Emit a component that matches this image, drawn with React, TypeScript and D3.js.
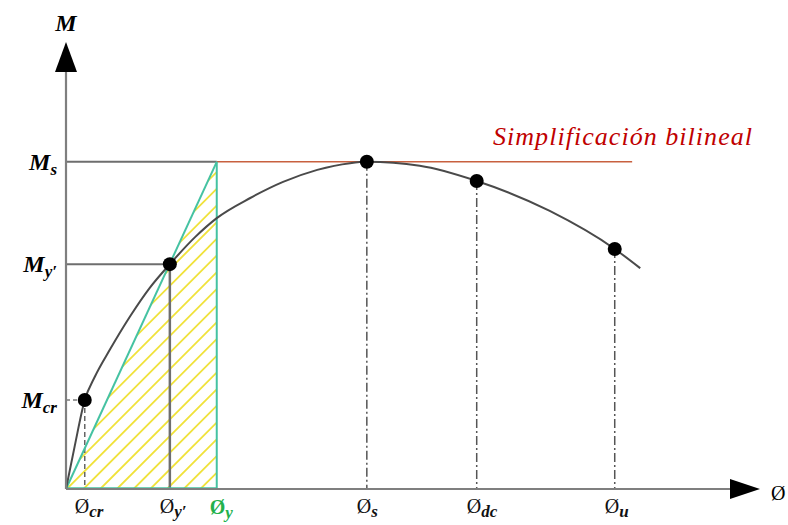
import React from "react";
import * as d3 from "d3";

// Moment–curvature curve (curvature φ, moment M), arbitrary units
const curvePhi = [0, 0.13, 0.28, 0.43, 0.66, 0.96, 1.25, 1.55, 1.93, 2.25, 2.75, 3.24, 3.75, 4.24, 4.49, 5.28, 6.13, 7.22, 8.19, 8.57];
const curveM = [0, 0.96, 1.99, 2.51, 3.13, 3.87, 4.5, 5.03, 5.64, 6.06, 6.51, 6.87, 7.14, 7.29, 7.32, 7.23, 6.89, 6.22, 5.37, 4.94];

// Marked states on the curve
const pointSubs = ["cr", "y\u2032", "s", "dc", "u"];
const pointPhi = [0.28, 1.55, 4.49, 6.13, 8.19];
const pointM = [1.99, 5.03, 7.32, 6.89, 5.37];

// Bilinear simplification
const phiYield = 2.25;
const momentMax = 7.32;
const bilinearEndPhi = 8.45;

// Moment labels on the vertical axis
const momentSubs = ["s", "y\u2032", "cr"];
const momentVals = [7.32, 5.03, 1.99];

const W = 788;
const H = 525;

const x = d3.scaleLinear().domain([0, 10]).range([66, 736]);
const y = d3.scaleLinear().domain([0, 10]).range([489, 42]);

const SERIF = "'Liberation Serif', 'DejaVu Serif', serif";

export default function App() {
  const curveData = curvePhi.map((p, i) => [p, curveM[i]] as [number, number]);
  const curvePath = d3
    .line<[number, number]>()
    .x((d) => x(d[0]))
    .y((d) => y(d[1]))
    .curve(d3.curveMonotoneX)(curveData) as string;

  const x0 = x(0);
  const y0 = y(0);
  const xY = x(phiYield);
  const yS = y(momentMax);

  const triangle = `M${x0},${y0}L${xY},${yS}L${xY},${y0}Z`;
  const hatchStarts = d3.range(x0 - 400, xY + 20, 16.7);

  return (
    <svg
      width={W}
      height={H}
      style={{ position: "absolute", left: 0, top: 0, background: "#fff" }}
    >
      <defs>
        <clipPath id="tri-clip">
          <path d={triangle} />
        </clipPath>
      </defs>

      {/* hatched area under the elastic branch */}
      <g clipPath="url(#tri-clip)">
        {hatchStarts.map((c, i) => (
          <line key={i} x1={c} y1={y0} x2={c + 400} y2={y0 - 400} stroke="#f0e23a" strokeWidth={1.8} />
        ))}
      </g>

      {/* horizontal reference lines */}
      <line x1={x0} x2={xY} y1={yS} y2={yS} stroke="#6e6e6e" strokeWidth={2} />
      <line x1={x0} x2={x(pointPhi[1])} y1={y(pointM[1])} y2={y(pointM[1])} stroke="#6e6e6e" strokeWidth={2} />
      <line x1={x0} x2={x(pointPhi[0])} y1={y(pointM[0])} y2={y(pointM[0])} stroke="#7a7a7a" strokeWidth={1.5} strokeDasharray="4,3" />

      {/* vertical drop lines */}
      <line x1={x(pointPhi[0])} x2={x(pointPhi[0])} y1={y(pointM[0])} y2={y0} stroke="#666" strokeWidth={1.5} strokeDasharray="5,3" />
      <line x1={x(pointPhi[1])} x2={x(pointPhi[1])} y1={y(pointM[1])} y2={y0} stroke="#6e6e6e" strokeWidth={2.5} />
      {pointPhi.slice(2).map((p, i) => (
        <line
          key={i}
          x1={x(p)}
          x2={x(p)}
          y1={y(pointM[i + 2])}
          y2={y0}
          stroke="#555"
          strokeWidth={1.5}
          strokeDasharray="9,3,2,3"
        />
      ))}

      {/* bilinear idealisation */}
      <line x1={xY} x2={x(bilinearEndPhi)} y1={yS} y2={yS} stroke="#c8603f" strokeWidth={1.6} />
      <line x1={x0} y1={y0} x2={xY} y2={yS} stroke="#45c2a2" strokeWidth={2} />
      <line x1={xY} y1={yS} x2={xY} y2={y0} stroke="#45c2a2" strokeWidth={2} />
      <line x1={x0} y1={y0 - 1} x2={xY} y2={y0 - 1} stroke="#45c2a2" strokeWidth={1.5} />

      {/* moment–curvature curve */}
      <path d={curvePath} fill="none" stroke="#4a4a4a" strokeWidth={2} />

      {/* axes */}
      <line x1={x0} x2={x0} y1={y0} y2={70} stroke="#7f7f7f" strokeWidth={2.2} />
      <line x1={x0} x2={732} y1={y0} y2={y0} stroke="#7f7f7f" strokeWidth={2.2} />
      <path d={`M${x0},42L${x0 - 11},72L${x0 + 11},72Z`} fill="#000" />
      <path d={`M760,${y0}L730,${y0 - 10}L730,${y0 + 10}Z`} fill="#000" />

      {/* points */}
      {pointPhi.map((p, i) => (
        <circle key={i} cx={x(p)} cy={y(pointM[i])} r={7} fill="#000" />
      ))}

      {/* axis titles */}
      <text x={66} y={31} textAnchor="middle" fontFamily={SERIF} fontWeight="bold" fontStyle="italic" fontSize={24}>
        M
      </text>
      <text x={771} y={500} fontFamily={SERIF} fontSize={20}>
        Ø
      </text>

      {/* moment labels */}
      {momentVals.map((m, i) => (
        <text
          key={i}
          x={57}
          y={y(m) + 8}
          textAnchor="end"
          fontFamily={SERIF}
          fontWeight="bold"
          fontStyle="italic"
          fontSize={24}
        >
          M
          <tspan fontSize={17} dy={5}>
            {momentSubs[i]}
          </tspan>
        </text>
      ))}

      {/* curvature labels */}
      {pointPhi.map((p, i) => (
        <text key={i} x={x(p) - 10} y={513} fontFamily={SERIF} fontSize={20} fill="#111">
          Ø
          <tspan fontSize={17} dy={4} fontWeight="bold" fontStyle="italic">
            {pointSubs[i]}
          </tspan>
        </text>
      ))}
      <text x={xY - 7} y={514} fontFamily={SERIF} fontSize={20} fontWeight="bold" fill="#22b14c">
        Ø
        <tspan fontSize={17} dy={4} fontStyle="italic">
          y
        </tspan>
      </text>

      {/* legend */}
      <text
        x={493}
        y={145}
        fontFamily={SERIF}
        fontStyle="italic"
        fontSize={26}
        fill="#c00000"
        textLength={259}
        lengthAdjust="spacing"
      >
        Simplificación bilineal
      </text>
    </svg>
  );
}
